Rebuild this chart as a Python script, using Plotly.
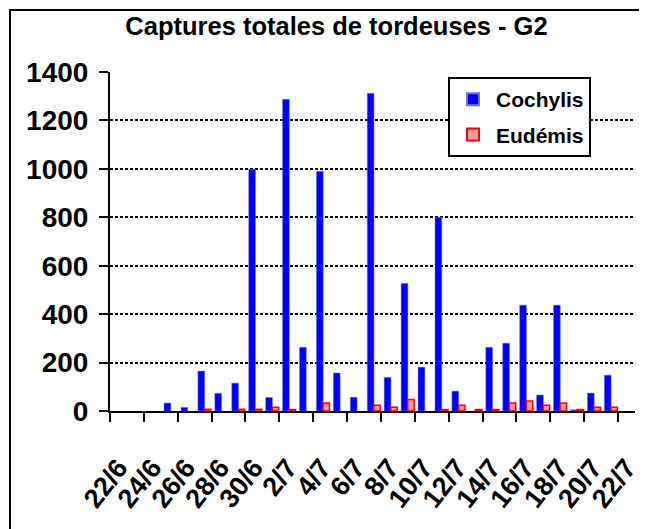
import plotly.graph_objects as go

dates = ["22/6", "23/6", "24/6", "25/6", "26/6", "27/6", "28/6", "29/6", "30/6",
         "1/7", "2/7", "3/7", "4/7", "5/7", "6/7", "7/7", "8/7", "9/7", "10/7",
         "11/7", "12/7", "13/7", "14/7", "15/7", "16/7", "17/7", "18/7", "19/7",
         "20/7", "21/7", "22/7"]
cochylis = [0, 0, 0, 33, 15, 165, 73, 115, 998, 56, 1287, 263, 990, 157, 57,
            1312, 139, 527, 181, 800, 82, 0, 263, 280, 437, 66, 437, 5, 74, 148, 0]
eudemis = [0, 0, 0, 0, 0, 7, 0, 7, 7, 16, 6, 0, 33, 0, 0, 24, 16, 48, 0, 6,
           24, 6, 6, 33, 41, 24, 33, 6, 16, 16, 0]
y_ticks = [0, 200, 400, 600, 800, 1000, 1200, 1400]
title_text = "Captures totales de tordeuses - G2"

FONT = "Liberation Sans, Arial, sans-serif"

# page offset (html body margin) compensation
OFF = 8
PL, PR, PT, PB = 110 - OFF, 635 - OFF, 72 - OFF, 411 - OFF  # plot area in figure px
W, H = 647, 529
PW, PH = PR - PL, PB - PT


def hide_zero(vals):
    return [v if v else None for v in vals]


fig = go.Figure()
fig.add_trace(go.Bar(
    x=dates, y=hide_zero(cochylis), name="Cochylis", legendgroup="a",
    marker=dict(color="#0000FF", line=dict(color="#7070FF", width=0.5)),
    offset=-0.31, width=0.40,
))
fig.add_trace(go.Bar(
    x=dates, y=hide_zero(eudemis), name="Eudémis", legendgroup="b",
    marker=dict(color="#FF9999", line=dict(color="#FF0000", width=1.5)),
    offset=0.08, width=0.38,
))

fig.update_layout(
    width=W, height=H,
    margin=dict(l=PL, r=W - PR, t=PT, b=H - PB, autoexpand=False),
    paper_bgcolor="white", plot_bgcolor="white",
    barmode="overlay",
    font=dict(family=FONT, color="black"),
    title=dict(text=title_text, font=dict(size=25.5, family=FONT, weight="bold"),
               x=(336.5 - OFF) / W, xref="container", xanchor="center",
               y=1 - (26 - OFF) / H, yref="container", yanchor="middle",
               automargin=False),
    showlegend=True,
    legend=dict(
        x=(448 - 110) / (635 - 110), y=(411 - 77) / (411 - 72),
        xanchor="left", yanchor="top",
        bordercolor="black", borderwidth=2, bgcolor="white",
        font=dict(size=21, family=FONT, weight="bold"),
        traceorder="grouped", tracegroupgap=5,
        itemwidth=36, itemsizing="constant",
    ),
    xaxis=dict(
        type="category", tickmode="linear", tick0=0, dtick=2,
        tickson="boundaries", ticks="outside", ticklen=9, tickwidth=2,
        tickcolor="black", tickangle=-52, automargin=False,
        tickfont=dict(size=27, family=FONT, weight="bold"),
        ticklabelstandoff=28,
        showline=True, linecolor="black", linewidth=2,
        showgrid=False, range=[-0.5, 30.5],
    ),
    yaxis=dict(
        range=[0, 1400], tickvals=y_ticks, automargin=False,
        ticks="outside", ticklen=9, tickwidth=2, tickcolor="black",
        tickfont=dict(size=28, family=FONT, weight="bold"),
        showline=True, linecolor="black", linewidth=2,
        showgrid=True, gridcolor="black", gridwidth=1.5, griddash="3px,2px",
        zeroline=False, ticklabelstandoff=5,
    ),
)

# chart-area border (left and top edges visible)
fig.add_shape(type="rect", xref="paper", yref="paper",
              x0=(10 - OFF - PL) / PW, x1=1.3, y0=-0.6, y1=(PB - (10 - OFF)) / PH,
              line=dict(color="black", width=2), layer="above")

fig.write_html("out.html")
